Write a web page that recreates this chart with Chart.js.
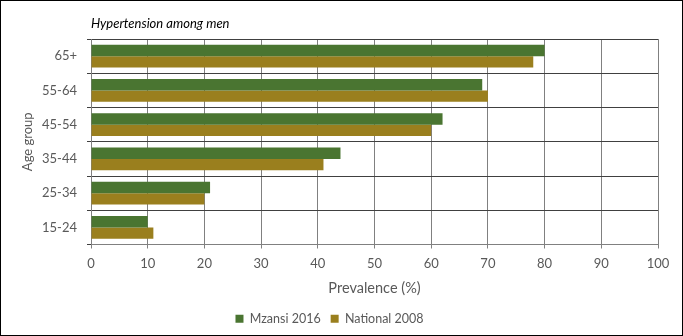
<!DOCTYPE html>
<html>
<head>
<meta charset="utf-8">
<script src="https://cdn.jsdelivr.net/npm/chart.js@4.4.0/dist/chart.umd.min.js"></script>
<style>
  html, body { margin: 0; padding: 0; background: #fff; }
  #wrap { width: 683px; height: 336px; box-sizing: border-box; border: 1px solid #000; }
  canvas { display: block; }
</style>
</head>
<body>
<div id="wrap"><canvas id="c" width="681" height="334"></canvas></div>
<script>
const categories = ['65+', '55-64', '45-54', '35-44', '25-34', '15-24'];
const mzansi2016 = [80, 69, 62, 44, 21, 10];
const national2008 = [78, 70, 60, 41, 20, 11];
const seriesNames = ['Mzansi 2016', 'National 2008'];
const chartTitle = 'Hypertension among men';
const xTitle = 'Prevalence (%)';
const yTitle = 'Age group';

const FONT = 'Lato, "Open Sans", sans-serif';
const GREY = '#595959';

const titlePlugin = {
  id: 'leftTitle',
  afterDraw(chart) {
    const ctx = chart.ctx;
    ctx.save();
    ctx.font = 'italic 13px ' + FONT;
    ctx.fillStyle = '#000';
    ctx.textAlign = 'left';
    ctx.textBaseline = 'middle';
    ctx.fillText(chartTitle, chart.chartArea.left, 23);
    ctx.restore();
  }
};

new Chart(document.getElementById('c'), {
  type: 'bar',
  data: {
    labels: categories,
    datasets: [
      { label: seriesNames[0], data: mzansi2016, backgroundColor: '#4a7531', borderWidth: 0, categoryPercentage: 0.66, barPercentage: 1.0 },
      { label: seriesNames[1], data: national2008, backgroundColor: '#9a7f1e', borderWidth: 0, categoryPercentage: 0.66, barPercentage: 1.0 }
    ]
  },
  options: {
    indexAxis: 'y',
    responsive: false,
    animation: false,
    layout: { padding: { top: 38, left: 0, right: 24, bottom: 0 } },
    plugins: {
      legend: {
        position: 'bottom',
        labels: { boxWidth: 8, boxHeight: 8, padding: 10, color: GREY, font: { family: FONT, size: 12.5 } }
      },
      title: { display: false },
      tooltip: { enabled: false }
    },
    scales: {
      x: {
        min: 0, max: 100,
        ticks: { stepSize: 10, color: GREY, padding: 8, font: { family: FONT, size: 13 } },
        grid: { color: '#808080', lineWidth: 1, tickLength: 4 },
        border: { color: '#808080' },
        title: { display: true, text: xTitle, color: GREY, padding: { top: 0, bottom: 5 }, font: { family: FONT, size: 14.5 } },
        afterFit(s) { s.height = 58; }
      },
      y: {
        ticks: { color: GREY, padding: 10, font: { family: FONT, size: 13 } },
        grid: { color: '#404040', lineWidth: 1, tickLength: 4 },
        border: { color: '#808080' },
        title: { display: true, text: yTitle, color: GREY, padding: { top: 19, bottom: 0 }, font: { family: FONT, size: 13 } },
        afterFit(s) { s.width = 90; }
      }
    }
  },
  plugins: [titlePlugin]
});
</script>
</body>
</html>
